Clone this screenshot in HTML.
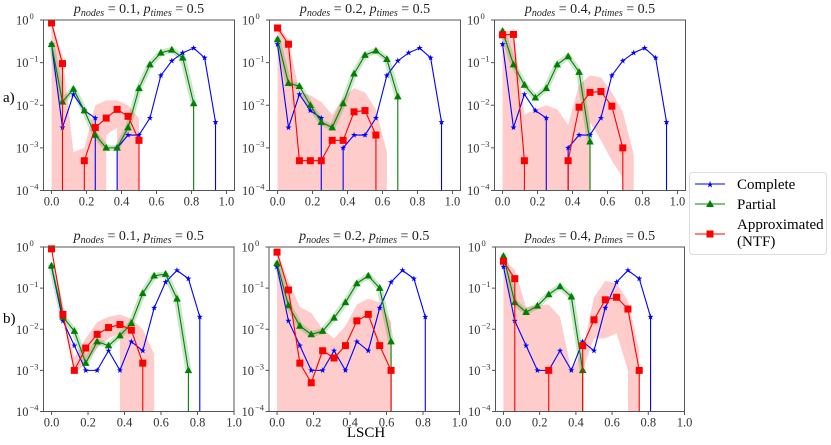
<!DOCTYPE html>
<html><head><meta charset="utf-8"><style>
html,body{margin:0;padding:0;background:#fff;width:831px;height:445px;overflow:hidden;}
svg{display:block;}
svg text{font-family:"Liberation Serif","DejaVu Serif",serif;}
</style></head><body>
<svg id="chart" width="831" height="445" viewBox="0 0 831 445" xmlns="http://www.w3.org/2000/svg" font-family="Liberation Serif, serif" overflow="hidden">
<defs></defs>
<g id="root"></g>
<g>
  <rect x="689.5" y="172.5" width="137" height="82" rx="3" fill="#fff" stroke="#ddd" stroke-width="1"/>
  <g>
    <line x1="695" y1="184" x2="725" y2="184" stroke="#0000ff" stroke-width="1"/>
    <text x="710" y="187.5" font-size="9" fill="#0000ff" text-anchor="middle">★</text>
    <text x="737" y="189" font-size="15">Complete</text>
  </g>
  <g>
    <line x1="695" y1="204" x2="725" y2="204" stroke="#008000" stroke-width="1"/>
    <polygon points="710,200 714,207 706,207" fill="#008000"/>
    <text x="737" y="209" font-size="15">Partial</text>
  </g>
  <g>
    <line x1="695" y1="234" x2="725" y2="234" stroke="#ff0000" stroke-width="1"/>
    <rect x="706.5" y="230.5" width="7" height="7" fill="#ff0000"/>
    <text x="737" y="229" font-size="15">Approximated</text>
    <text x="737" y="246" font-size="15">(NTF)</text>
  </g>
</g>
<text x="3" y="102" font-size="15">a)</text>
<text x="3" y="323" font-size="15">b)</text>
<text x="366" y="437" font-size="15" text-anchor="middle">LSCH</text>
</svg>
<script>
const xStep = 0.0625;
const xTicks = [0.0, 0.2, 0.4, 0.6, 0.8, 1.0];
const xTickLabels = ["0.0", "0.2", "0.4", "0.6", "0.8", "1.0"];
const yTicks = [0, -1, -2, -3, -4];
const titlesP = ["0.1", "0.2", "0.4", "0.1", "0.2", "0.4"];

const completeA = [0.27,0.003,0.018,0.0075,0.005,0,0.001,0.002,0.002,0.005,0.05,0.11,0.17,0.22,0.13,0.004,0];
const completeB = [0.33,0.016,0.004,0.001,0.001,0.003,0.001,0.005,0.003,0.033,0.14,0.27,0.17,0.02,0];

const partialA1 = [0.27,0.012,0.024,0.0075,0.002,0.001,0.001,0.003,0.025,0.09,0.17,0.2,0.13,0.011,0];
const partialA2 = [0.35,0.033,0.028,0.01,0.004,0.003,0.011,0.055,0.15,0.19,0.12,0.016,0];
const partialA3 = [0.55,0.09,0.03,0.015,0.025,0.09,0.14,0.06,0.0014,0];
const partialB1 = [0.35,0.02,0.009,0.0015,0.005,0.004,0.007,0.014,0.075,0.2,0.22,0.055,0.001,0];
const partialB2 = [0.4,0.038,0.012,0.0075,0.009,0.019,0.045,0.13,0.2,0.1,0.005,0];
const partialB3 = [0.6,0.045,0.026,0.037,0.07,0.11,0.062,0.001,0];

const approxA1 = [0.85,0.095,0,0.0005,0.003,0.005,0.008,0.0055,0.0015,0];
const approxA2 = [0.65,0.27,0.0005,0.0005,0.0005,0.0015,0.0015,0.007,0.0075,0.002,0];
const approxA3 = [0.45,0.46,0.0005,0,0,0,0.0005,0.009,0.02,0.021,0.0095,0.001,0];
const approxB1 = [0.9,0.023,0.001,0.0035,0.0075,0.011,0.013,0.0095,0.0015,0];
const approxB2 = [0.75,0.09,0.0015,0.0005,0.003,0.002,0.004,0.016,0.023,0.004,0.001,0];
const approxB3 = [0.45,0.17,0,0,0.001,0,0,0.004,0.017,0.052,0.06,0.031,0.001,0];

const approxHiA1 = [0.95,0.15,0.0008,0.001,0.01,0.013,0.013,0.01,0.005,0];
const approxLoA1 = [0.7,0,0,0.0008,0,0.002,0.003,0,0,0];
const approxHiA2 = [0.8,0.35,0.02,0.017,0.012,0.006,0.015,0.025,0.02,0.008,0.0008,0];
const approxLoA2 = [0.5,0,0,0,0,0,0,0,0,0,0,0];
const approxHiA3 = [0.55,0.55,0.006,0.008,0.01,0.008,0.0035,0.03,0.05,0.045,0.02,0.007,0.0007,0];
const approxLoA3 = [0.35,0,0,0,0,0,0,0,0.004,0.0015,0.0005,0.0002,0,0];
const approxHiB1 = [1.0,0.03,0.002,0.006,0.015,0.02,0.023,0.018,0.01,0.0025,0];
const approxLoB1 = [0.8,0.018,0.0008,0.0015,0.0035,0.006,0.008,0,0,0,0];
const approxHiB2 = [0.85,0.15,0.035,0.025,0.01,0.006,0.012,0.04,0.055,0.045,0.015,0];
const approxLoB2 = [0.6,0,0,0,0,0,0,0,0,0,0,0];
const approxHiB3 = [0.5,0.28,0.035,0.038,0.04,0.02,0.001,0.003,0.06,0.15,0.13,0.05,0.003,0];
const approxLoB3 = [0.4,0,0,0,0,0,0,0.001,0.006,0.006,0.008,0.001,0,0];

const panels = [
 {L:43.5,T:20,R:234.5,B:190.5,xmin:-0.046,xmax:1.046,c:completeA,p:partialA1,a:approxA1,hi:approxHiA1,lo:approxLoA1},
 {L:269.5,T:20,R:460.5,B:190.5,xmin:-0.046,xmax:1.046,c:completeA,p:partialA2,a:approxA2,hi:approxHiA2,lo:approxLoA2},
 {L:494.5,T:20,R:685.5,B:190.5,xmin:-0.046,xmax:1.046,c:completeA,p:partialA3,a:approxA3,hi:approxHiA3,lo:approxLoA3},
 {L:43.5,T:247,R:234,B:411.5,xmin:-0.044,xmax:1.0,c:completeB,p:partialB1,a:approxB1,hi:approxHiB1,lo:approxLoB1},
 {L:269,T:247,R:459.5,B:411.5,xmin:-0.044,xmax:1.0,c:completeB,p:partialB2,a:approxB2,hi:approxHiB2,lo:approxLoB2},
 {L:495.5,T:247,R:684.5,B:411.5,xmin:-0.044,xmax:1.0,c:completeB,p:partialB3,a:approxB3,hi:approxHiB3,lo:approxLoB3}
];

const NS = "http://www.w3.org/2000/svg";
const root = document.getElementById('root');
const defs = document.querySelector('defs');
function mk(tag, attrs, parent){const e=document.createElementNS(NS,tag);for(const k in attrs)e.setAttribute(k,attrs[k]);if(parent)parent.appendChild(e);return e;}

panels.forEach((P,pi)=>{
  const sx = v => P.L + (v-P.xmin)/(P.xmax-P.xmin)*(P.R-P.L);
  const sy = v => P.T + (0-Math.log10(v))/4*(P.B-P.T);
  // zero values behave like matplotlib clipped log: vertical drops to the bottom axis
  const toPts = arr => {
    const out=[];
    arr.forEach((v,i)=>{
      if(v>0){ out.push([sx(i*xStep), sy(v)]); return; }
      if(i>0 && arr[i-1]>0) out.push([sx((i-1)*xStep), P.B+1]);
      if(i<arr.length-1 && arr[i+1]>0) out.push([sx((i+1)*xStep), P.B+1]);
      if(out.length===0 || (i===arr.length-1 && !(arr[i-1]>0))) out.push([sx(i*xStep), P.B+1]);
    });
    return out;
  };
  const g = mk('g',{},root);
  
  
  const cp = mk('clipPath',{id:'cp'+pi},defs);
  mk('rect',{x:P.L,y:P.T-6,width:P.R-P.L,height:P.B-P.T+6},cp);
  const plot = mk('g',{'clip-path':'url(#cp'+pi+')'},g);
  // red band
  const hiPts = toPts(P.hi), loPts = toPts(P.lo).reverse();
  const band = mk('polygon',{points:hiPts.concat(loPts).map(p=>p.join(',')).join(' '),fill:'#ff0000','fill-opacity':0.2,stroke:'none'},plot);
  
  
  // green band
  let run=[];
  const flush=()=>{ if(run.length>1){ const b=mk('polyline',{points:run.join(' '),fill:'none',stroke:'#008000','stroke-opacity':0.2,'stroke-width':6,'stroke-linejoin':'round','stroke-linecap':'round'},plot);   } run=[]; };
  P.p.forEach((v,i)=>{ if(v>0) run.push(sx(i*xStep)+','+sy(v)); else flush(); });
  flush();
  const series = [
    {d:P.c,col:'#0000ff',name:'complete',m:'star'},
    {d:P.p,col:'#008000',name:'partial',m:'tri'},
    {d:P.a,col:'#ff0000',name:'approximated',m:'sq'}
  ];
  series.forEach(s=>{
    const pl = mk('polyline',{points:toPts(s.d).map(p=>p.join(',')).join(' '),fill:'none',stroke:s.col,'stroke-width':1.1},plot);
    
    
    s.d.forEach((v,i)=>{
      if(!(v>0)) return;
      const x=sx(i*xStep), y=sy(v);
      let m;
      if(s.m==='sq') m=mk('rect',{x:x-3.5,y:y-3.5,width:7,height:7,fill:s.col},plot);
      else if(s.m==='tri') m=mk('polygon',{points:`${x},${y-4} ${x+3.8},${y+2.8} ${x-3.8},${y+2.8}`,fill:s.col},plot);
      else { const r=3.2, r2=1.3; let q=[]; for(let k=0;k<10;k++){const a=-Math.PI/2+k*Math.PI/5;const rr=k%2?r2:r;q.push((x+rr*Math.cos(a))+','+(y+rr*Math.sin(a)));} m=mk('polygon',{points:q.join(' '),fill:s.col},plot);}
      
      
    });
  });
  mk('rect',{x:P.L,y:P.T,width:P.R-P.L,height:P.B-P.T,fill:'none',stroke:'#555','stroke-width':1},g);
  xTicks.forEach((t,i)=>{
    const x=sx(t);
    mk('line',{x1:x,y1:P.B,x2:x,y2:P.B+3.5,stroke:'#555'},g);
    const tx=mk('text',{x:x,y:P.B+15,'font-size':12.5,'text-anchor':'middle',fill:'#333'},g);
    tx.textContent=xTickLabels[i];
    
    
  });
  yTicks.forEach(e=>{
    const y=sy(Math.pow(10,e));
    mk('line',{x1:P.L-3.5,y1:y,x2:P.L,y2:y,stroke:'#555'},g);
    const tx=mk('text',{x:P.L-15,y:y+4.5,'font-size':12.5,'text-anchor':'end',fill:'#333'},g);
    tx.textContent='10';
    
    
    const sp=mk('text',{x:P.L-14,y:y-1,'font-size':8.5,'text-anchor':'start',fill:'#333'},g);
    sp.textContent = e===0 ? '0' : '\u2212'+(-e);
  });
  const ti=mk('text',{x:(P.L+P.R)/2,y:P.T-7,'font-size':14,'text-anchor':'middle',fill:'#222'},g);
  
  
  ti.innerHTML = '<tspan font-style="italic">p</tspan><tspan font-style="italic" font-size="10" dy="3">nodes</tspan><tspan dy="-3"> = '+titlesP[pi]+', </tspan><tspan font-style="italic">p</tspan><tspan font-style="italic" font-size="10" dy="3">times</tspan><tspan dy="-3"> = 0.5</tspan>';
});
</script>
</body></html>
